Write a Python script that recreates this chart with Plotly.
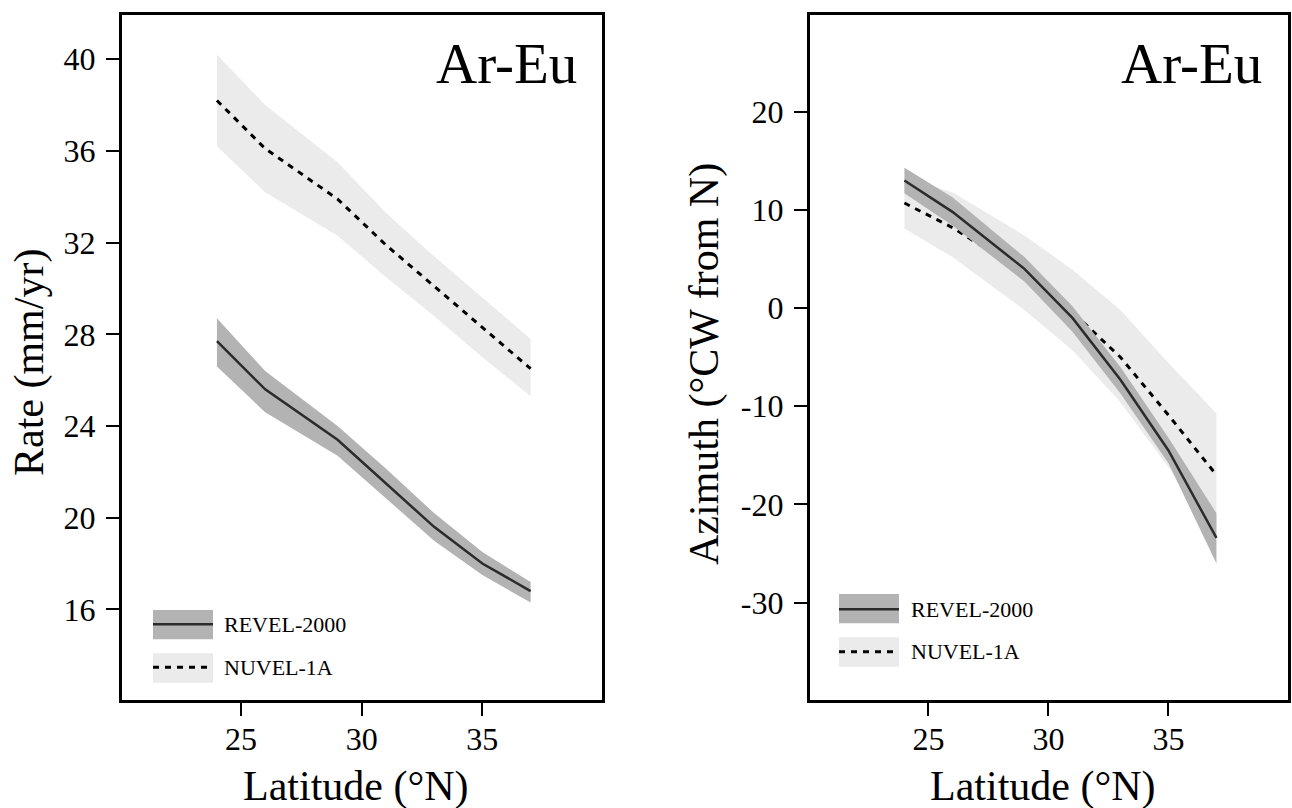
import plotly.graph_objects as go

# ---- data ----
lat = [24, 26, 29, 31, 33, 35, 37]

revel_rate = [27.7, 25.6, 23.4, 21.5, 19.6, 18.0, 16.8]
revel_rate_hi = [28.7, 26.4, 24.0, 22.15, 20.2, 18.5, 17.2]
revel_rate_lo = [26.6, 24.6, 22.7, 20.85, 19.0, 17.5, 16.3]

nuvel_rate = [38.2, 36.1, 33.9, 31.9, 30.1, 28.3, 26.5]
nuvel_rate_hi = [40.2, 38.0, 35.5, 33.3, 31.4, 29.6, 27.8]
nuvel_rate_lo = [36.2, 34.2, 32.3, 30.5, 28.8, 27.0, 25.3]

revel_az = [13.0, 9.8, 4.0, -1.0, -7.3, -14.5, -23.4]
revel_az_hi = [14.3, 11.3, 5.2, 0.2, -6.0, -13.2, -20.9]
revel_az_lo = [11.7, 8.4, 2.7, -2.4, -8.7, -15.8, -26.0]

nuvel_az = [10.7, 8.2, 3.6, -0.4, -5.0, -10.9, -17.0]
nuvel_az_hi = [13.3, 11.8, 7.4, 3.9, -0.2, -5.6, -10.7]
nuvel_az_lo = [8.1, 5.2, -0.2, -4.3, -9.6, -16.2, -23.3]

x_ticks = [25, 30, 35]
x_ticktext = ["25", "30", "35"]
rate_ticks = [16, 20, 24, 28, 32, 36, 40]
rate_ticktext = ["16", "20", "24", "28", "32", "36", "40"]
az_ticks = [-30, -20, -10, 0, 10, 20]
az_ticktext = ["-30", "-20", "-10", "0", "10", "20"]

panel_label = "Ar-Eu"
series_names = ["REVEL-2000", "NUVEL-1A"]
x_title = "Latitude (°N)"
rate_title = "Rate (mm/yr)"
az_title = "Azimuth (°CW from N)"

# ---- style ----
FONT = "Liberation Serif"
DARK_BAND = "#b3b3b3"
LIGHT_BAND = "#ebebeb"
LINE_COL = "#2b2b2b"
DASH = "6px,6px"
W, H = 1292, 808


def px(x):
    return x / W


def py(y):
    return 1 - y / H


fig = go.Figure()


def band(x, hi, lo, color, xa, ya):
    return go.Scatter(
        x=list(x) + list(x)[::-1],
        y=list(hi) + list(lo)[::-1],
        fill="toself", fillcolor=color, mode="lines",
        line=dict(width=0, color=color), hoverinfo="skip",
        showlegend=False, xaxis=xa, yaxis=ya)


for xa, ya, rv, rh, rl, nv, nh, nl in [
    ("x", "y", revel_rate, revel_rate_hi, revel_rate_lo, nuvel_rate, nuvel_rate_hi, nuvel_rate_lo),
    ("x2", "y2", revel_az, revel_az_hi, revel_az_lo, nuvel_az, nuvel_az_hi, nuvel_az_lo),
]:
    fig.add_trace(band(lat, nh, nl, LIGHT_BAND, xa, ya))
    fig.add_trace(go.Scatter(x=lat, y=nv, mode="lines",
                             line=dict(color="black", width=3, dash=DASH),
                             showlegend=False, xaxis=xa, yaxis=ya))
    fig.add_trace(band(lat, rh, rl, DARK_BAND, xa, ya))
    fig.add_trace(go.Scatter(x=lat, y=rv, mode="lines",
                             line=dict(color=LINE_COL, width=2.5),
                             showlegend=False, xaxis=xa, yaxis=ya))

y_dom = [py(699.5), py(14.5)]
axis_common = dict(
    showline=True, linewidth=3, linecolor="black", mirror=True,
    ticks="outside", ticklen=13, tickwidth=1.5, tickcolor="black",
    showgrid=False, zeroline=False,
    tickfont=dict(family=FONT, size=32, color="black"),
)

fig.update_layout(
    width=W, height=H,
    margin=dict(l=0, r=0, t=0, b=0),
    paper_bgcolor="white", plot_bgcolor="white",
    showlegend=False,
    xaxis=dict(domain=[px(122), px(601.5)], range=[20.066, 39.938],
               tickvals=x_ticks, ticktext=x_ticktext, anchor="y",
               ticklabelstandoff=-4, **axis_common),
    yaxis=dict(domain=y_dom, range=[12.07, 41.95],
               tickvals=rate_ticks, ticktext=rate_ticktext, anchor="x",
               ticklabelstandoff=4, **axis_common),
    xaxis2=dict(domain=[px(809.8), px(1287.5)], range=[20.058, 39.96],
                tickvals=x_ticks, ticktext=x_ticktext, anchor="y2",
                ticklabelstandoff=-4, **axis_common),
    yaxis2=dict(domain=y_dom, range=[-39.86, 29.9],
                tickvals=az_ticks, ticktext=az_ticktext, anchor="x2",
                ticklabelstandoff=4, **axis_common),
)

annotations = []
shapes = []
txt = dict(family=FONT, color="black")


def note(text, x, y, size, xanchor="center", angle=0):
    annotations.append(dict(text=text, x=px(x), y=py(y), xref="paper", yref="paper",
                            xanchor=xanchor, yanchor="middle", textangle=angle,
                            showarrow=False, font=dict(size=size, **txt)))


# panel labels
note(panel_label, 579, 64, 57, xanchor="right")
note(panel_label, 1264, 64, 57, xanchor="right")
# axis titles
note(x_title, 356, 786, 42)
note(x_title, 1042.5, 786, 42)
note(rate_title, 29, 363, 42, angle=-90)
note(az_title, 705, 364, 42, angle=-90)

# legends (reference pixel positions)
legends = [
    # x0, x1, dark(y0, y1, yline), light(y0, y1, yline), text x
    (153, 213, (610, 639.3, 624.3), (653.3, 682.7, 667.3), 222.4),
    (839, 899, (594, 623.3, 609.3), (637.3, 666.7, 651.7), 909),
]
for x0, x1, dk, lt, tx in legends:
    shapes.append(dict(type="rect", xref="paper", yref="paper", x0=px(x0), x1=px(x1),
                       y0=py(dk[1]), y1=py(dk[0]), fillcolor=DARK_BAND, line=dict(width=0)))
    shapes.append(dict(type="line", xref="paper", yref="paper", x0=px(x0), x1=px(x1),
                       y0=py(dk[2]), y1=py(dk[2]), line=dict(color=LINE_COL, width=2.5)))
    shapes.append(dict(type="rect", xref="paper", yref="paper", x0=px(x0), x1=px(x1),
                       y0=py(lt[1]), y1=py(lt[0]), fillcolor=LIGHT_BAND, line=dict(width=0)))
    shapes.append(dict(type="line", xref="paper", yref="paper", x0=px(x0), x1=px(x1),
                       y0=py(lt[2]), y1=py(lt[2]), line=dict(color="black", width=3, dash=DASH)))
    note(series_names[0], tx, dk[2], 22, xanchor="left")
    note(series_names[1], tx, lt[2], 22, xanchor="left")

fig.update_layout(annotations=annotations, shapes=shapes)
fig.write_html(
    "out.html",
    config={"displayModeBar": False},
    post_script="document.body.style.margin='0px';"
                "document.documentElement.style.overflow='hidden';",
)
